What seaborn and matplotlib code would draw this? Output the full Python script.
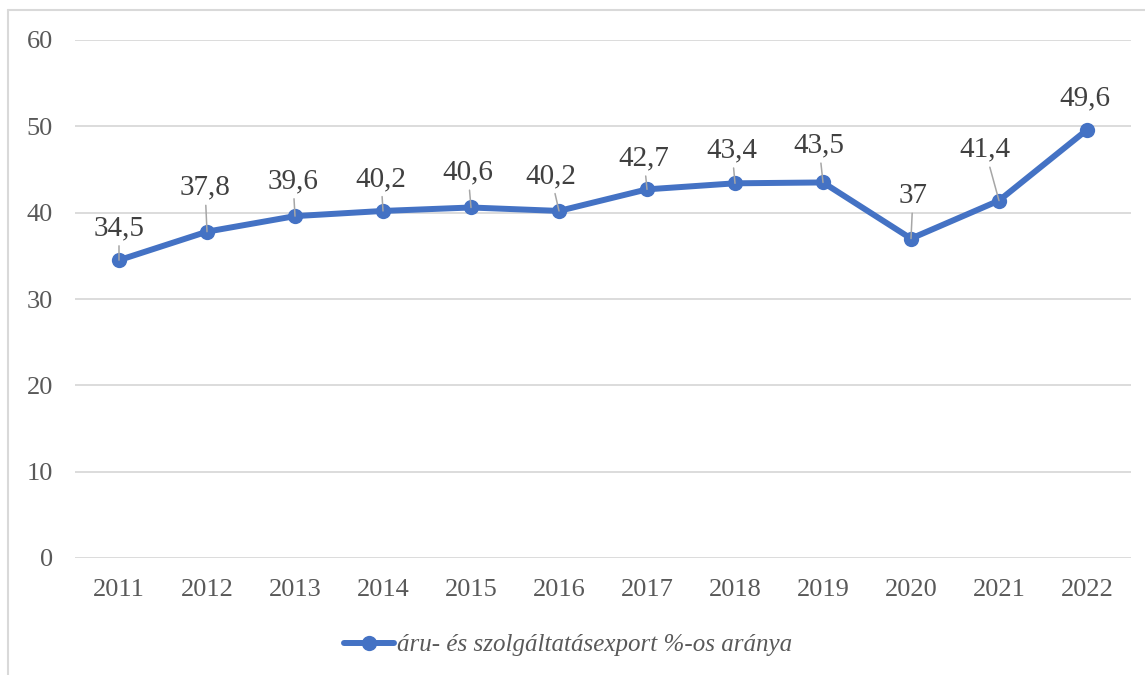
import pandas as pd
import numpy as np
import matplotlib.pyplot as plt
import seaborn as sns
from matplotlib.lines import Line2D

# data
years = [2011, 2012, 2013, 2014, 2015, 2016, 2017, 2018, 2019, 2020, 2021, 2022]
export_share = [34.5, 37.8, 39.6, 40.2, 40.6, 40.2, 42.7, 43.4, 43.5, 37.0, 41.4, 49.6]
value_labels = ['34,5', '37,8', '39,6', '40,2', '40,6', '40,2', '42,7', '43,4', '43,5', '37', '41,4', '49,6']
series_name = 'áru- és szolgáltatásexport %-os aránya'

# label placement (pixel offsets from the point) and leader line flags
label_dx = [0, -2, -2, -2, -3, -8, -3, -3, -4, 2, -14, -2]
label_dy = [32, 44, 35, 32, 35, 35, 31, 33, 37, 43, 51, 31]
has_leader = [True] * 11 + [False]

df = pd.DataFrame({'year': years, 'value': export_share, 'series': series_name})

sns.set_theme(style='white')
plt.rcParams['font.family'] = ['Liberation Serif', 'DejaVu Serif']

blue = '#4472C4'
grid_col = '#d9d9d9'
text_col = '#595959'

fig = plt.figure(figsize=(11.45, 6.75), dpi=100)
ax = fig.add_axes([75 / 1145, 117 / 675, (1131 - 75) / 1145, (558 - 40) / 675])

sns.lineplot(data=df, x='year', y='value', hue='series', palette=[blue],
             marker='o', markersize=11, linewidth=4.3, markeredgewidth=0,
             ax=ax, legend=False, zorder=3)

ax.set_xlim(2010.5, 2022.5)
ax.set_ylim(0, 60)
ax.set_yticks(range(0, 61, 10))
ax.set_xticks(years)
ax.set_xticklabels([str(y) for y in years])
ax.set_xlabel('')
ax.set_ylabel('')
ax.grid(axis='y', color=grid_col, linewidth=1.3)
ax.set_axisbelow(True)
for s in ax.spines.values():
    s.set_visible(False)
ax.tick_params(axis='y', length=0, pad=16, labelsize=19, labelcolor=text_col)
ax.tick_params(axis='x', length=0, pad=15, labelsize=19, labelcolor=text_col)

for i in range(len(years)):
    props = None
    if has_leader[i]:
        props = dict(arrowstyle='-', color='#a6a6a6', lw=1.1, shrinkA=1, shrinkB=0)
    ax.annotate(value_labels[i], xy=(years[i], export_share[i]),
                xytext=(label_dx[i], label_dy[i]), textcoords='offset pixels',
                ha='center', va='center', fontsize=21, color='#404040',
                arrowprops=props, zorder=4)

# legend below the plot
handle = Line2D([], [], color=blue, linewidth=4.3, marker='o', markersize=11,
                markeredgewidth=0)
leg = fig.legend([handle], [series_name], loc='center', bbox_to_anchor=(568 / 1145, 1 - 645 / 675),
                 frameon=False, handlelength=2.0, handletextpad=0.1,
                 prop={'style': 'italic', 'size': 18, 'family': 'Liberation Serif'})
for t in leg.get_texts():
    t.set_color(text_col)

# chart area border (left and top edges visible)
fig.add_artist(Line2D([8 / 1145, 8 / 1145], [0, 1 - 10 / 675], transform=fig.transFigure,
                      color=grid_col, linewidth=1.5))
fig.add_artist(Line2D([8 / 1145, 1], [1 - 10 / 675, 1 - 10 / 675], transform=fig.transFigure,
                      color=grid_col, linewidth=1.5))

fig.savefig('out.png', dpi=100)
